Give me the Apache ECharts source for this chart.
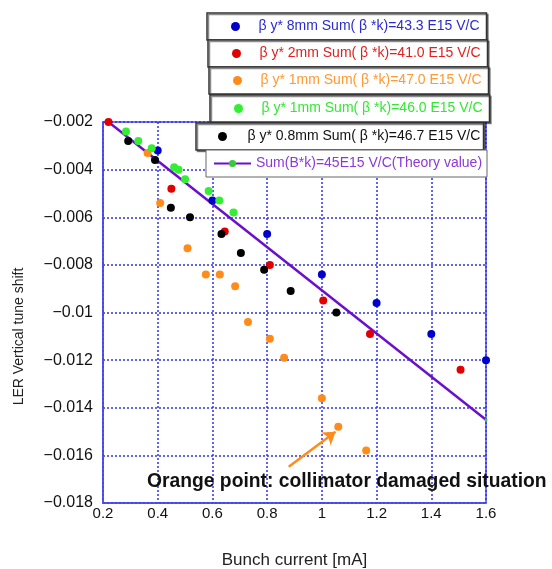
<!DOCTYPE html>
<html>
<head>
<meta charset="utf-8">
<script src="https://cdn.jsdelivr.net/npm/echarts@6/dist/echarts.min.js"></script>
<style>
  html, body { margin: 0; padding: 0; background: #fff; overflow: hidden; }
  #chart { width: 552px; height: 569px; }
</style>
</head>
<body>
<div id="chart"></div>
<script>
// series labels (legend boxes)
const names = [
  "β y* 8mm Sum( β *k)=43.3 E15 V/C",
  "β y* 2mm Sum( β *k)=41.0 E15 V/C",
  "β y* 1mm Sum( β *k)=47.0 E15 V/C",
  "β y* 1mm Sum( β *k)=46.0 E15 V/C",
  "β y* 0.8mm Sum( β *k)=46.7 E15 V/C",
  "Sum(B*k)=45E15 V/C(Theory value)"
];

// [bunch current mA, vertical tune shift]
const beta8mm = [[0.40, -0.0032], [0.60, -0.0053], [0.80, -0.0067], [1.00, -0.0084],
  [1.20, -0.0096], [1.40, -0.0109], [1.60, -0.0120]];
const beta2mm = [[0.22, -0.0020], [0.45, -0.0048], [0.645, -0.0066], [0.81, -0.0080],
  [1.005, -0.0095], [1.176, -0.0109], [1.507, -0.0124]];
const beta1mmOrange = [[0.363, -0.0033], [0.409, -0.0054], [0.509, -0.0073], [0.576, -0.0084],
  [0.627, -0.0084], [0.683, -0.0089], [0.73, -0.0104], [0.81, -0.0111], [0.862, -0.0119],
  [1.00, -0.0136], [1.06, -0.0148], [1.162, -0.0158]];
const beta1mmGreen = [[0.284, -0.0024], [0.329, -0.0028], [0.378, -0.0031], [0.46, -0.0039],
  [0.476, -0.0040], [0.50, -0.0044], [0.586, -0.0049], [0.625, -0.0053], [0.677, -0.0058]];
const beta08mm = [[0.292, -0.0028], [0.39, -0.0036], [0.448, -0.0056], [0.518, -0.0060],
  [0.633, -0.0067], [0.704, -0.0075], [0.789, -0.0082], [0.886, -0.0091], [1.053, -0.0100]];
const theory = [[0.22, -0.0020], [1.60, -0.0145]];
// annotation arrow, data coordinates
const arrowFrom = [0.879, -0.01648];
const arrowTo = [1.05, -0.01501];

const colors = ["#0000cc", "#e00000", "#ff8c1a", "#33ee33", "#000000", "#6a10cc"];
const textColors = ["#2a2ad0", "#e02020", "#ff9933", "#33e833", "#111111", "#8a3ad8"];
const font = "Liberation Sans, Noto Sans CJK JP, sans-serif";

// scatter boxes get extra left padding: their content lands ~14px left of the padding
const boxes = [
  { left: 207, top: 13, pad: 24, iw: 36, tw: 225 },
  { left: 208, top: 40, pad: 24, iw: 36, tw: 225 },
  { left: 209, top: 67, pad: 24, iw: 36, tw: 225 },
  { left: 210, top: 95, pad: 24, iw: 36, tw: 225 },
  { left: 196, top: 123, pad: 22, iw: 40, tw: 233 },
  { left: 206, top: 150, pad: 7, iw: 37, tw: 228 }
];

const legend = boxes.map((b, i) => ({
  left: b.left,
  top: b.top,
  data: [names[i]],
  orient: "horizontal",
  padding: [5, 3, 5, b.pad],
  itemWidth: b.iw,
  itemHeight: 9,
  backgroundColor: "#fff",
  borderColor: i < 5 ? "#333" : "#666",
  borderWidth: i < 5 ? 1.5 : 1,
  shadowColor: i < 5 ? "rgba(0,0,0,0.45)" : "rgba(0,0,0,0)",
  shadowOffsetX: 1.5,
  shadowOffsetY: 1.5,
  selectedMode: false,
  textStyle: {
    color: textColors[i],
    fontFamily: font,
    fontSize: 14,
    lineHeight: 17,
    width: b.tw,
    overflow: "none"
  }
}));

const chart = echarts.init(document.getElementById("chart"));

function scatter(name, data, color) {
  return {
    name: name,
    type: "scatter",
    data: data,
    symbol: "circle",
    symbolSize: 8,
    itemStyle: { color: color, opacity: 1 }
  };
}

const orange = scatter(names[2], beta1mmOrange, colors[2]);
orange.markLine = {
  silent: true,
  symbol: ["none", "arrow"],
  symbolSize: 12,
  label: { show: false },
  lineStyle: { color: colors[2], width: 2.5, type: "solid" },
  data: [[{ coord: arrowFrom }, { coord: arrowTo }]]
};

chart.setOption({
  animation: false,
  legend: legend,
  grid: {
    left: 103,
    width: 383,
    top: 122,
    height: 381,
    outerBoundsMode: "none",
    show: true,
    borderColor: "#4a4aee",
    borderWidth: 1.5
  },
  xAxis: {
    type: "value",
    min: 0.2,
    max: 1.6,
    interval: 0.2,
    name: "Bunch current [mA]",
    nameLocation: "middle",
    nameGap: 49,
    nameTextStyle: { color: "#222", fontFamily: font, fontSize: 17 },
    axisLine: { show: true, lineStyle: { color: "#4a4aee", width: 1.5 } },
    axisTick: { show: false },
    axisLabel: { color: "#111", fontFamily: font, fontSize: 15, margin: 3 },
    splitLine: { lineStyle: { color: "#3030ee", type: [2, 2], width: 1.5 } }
  },
  yAxis: {
    type: "value",
    min: -0.018,
    max: -0.002,
    interval: 0.002,
    name: "LER Vertical tune shift",
    nameLocation: "middle",
    nameGap: 77,
    nameTextStyle: { color: "#222", fontFamily: font, fontSize: 14, padding: [0, 48, 0, 0] },
    axisLine: { show: true, lineStyle: { color: "#4a4aee", width: 1.5 } },
    axisTick: { show: false },
    axisLabel: {
      color: "#111",
      fontFamily: font,
      fontSize: 16,
      margin: 10,
      formatter: (v) => String(+v.toFixed(4)).replace("-", "\u2212")
    },
    splitLine: { lineStyle: { color: "#3030ee", type: [2, 2], width: 1.5 } }
  },
  graphic: [{
    type: "text",
    left: 147,
    top: 472,
    z: 100,
    style: {
      text: "Orange point: collimator damaged situation",
      font: "bold 19.3px " + font,
      fill: "#111"
    }
  }],
  series: [
    {
      name: names[5],
      type: "line",
      data: theory,
      symbol: "circle",
      symbolSize: 3,
      itemStyle: { color: "#33cc33" },
      lineStyle: { color: colors[5], width: 2.5 },
      z: 1
    },
    scatter(names[0], beta8mm, colors[0]),
    scatter(names[1], beta2mm, colors[1]),
    orange,
    scatter(names[3], beta1mmGreen, colors[3]),
    scatter(names[4], beta08mm, colors[4])
  ]
});
</script>
</body>
</html>
